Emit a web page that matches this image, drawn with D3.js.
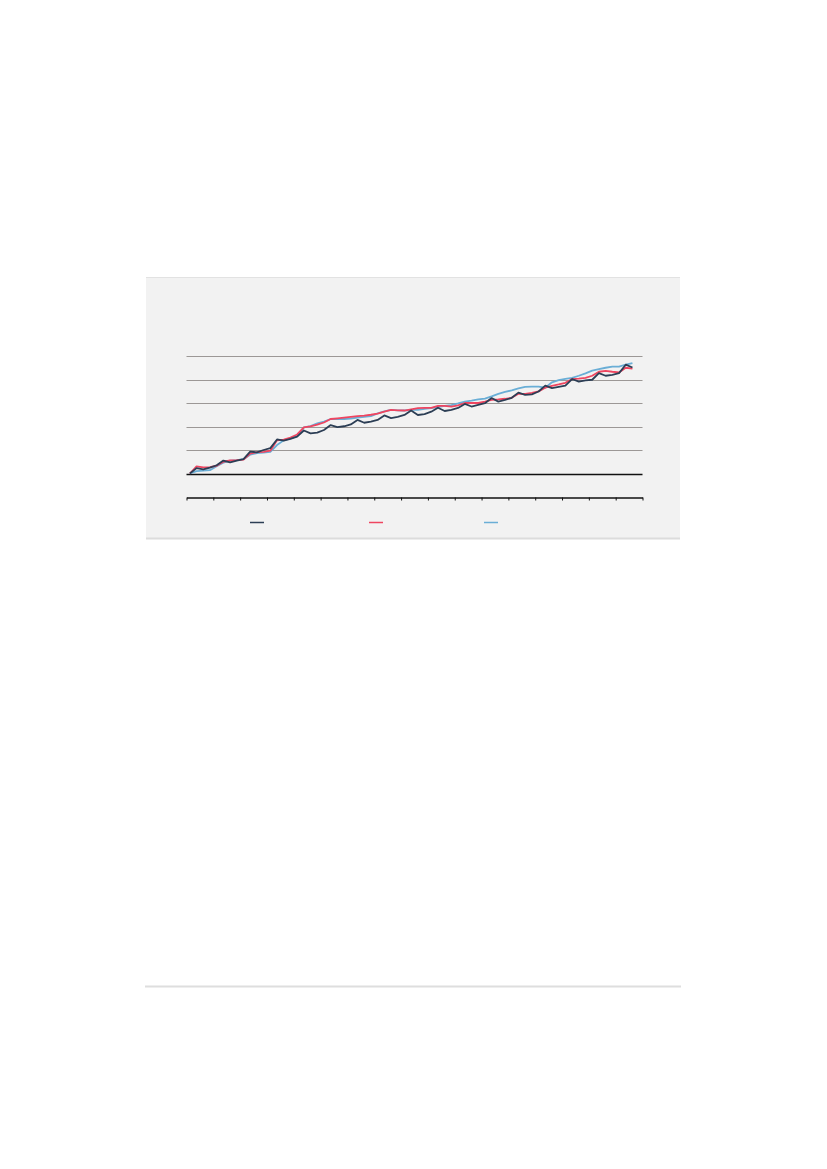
<!DOCTYPE html>
<html>
<head>
<meta charset="utf-8">
<script src="https://cdn.jsdelivr.net/npm/d3@7"></script>
<style>
  body { margin: 0; background: #ffffff; }
  svg { display: block; }
</style>
</head>
<body>
<script>
// quarterly series, 67 quarters over 17 year bands
var seriesDark = [0, 2.3, 1.8, 2.5, 3.5, 5.5, 4.7, 5.5, 6.1, 9.3, 9.0, 10.0, 10.8, 14.5, 14.0, 14.7,
  15.7, 18.3, 17.1, 17.4, 18.5, 20.6, 19.7, 20.1, 20.9, 22.8, 21.6, 22.1, 22.8, 24.7, 23.6, 24.1,
  24.9, 26.8, 24.9, 25.3, 26.3, 28.0, 26.6, 27.1, 27.9, 29.6, 28.5, 29.2, 29.9, 32.1, 30.6, 31.3,
  32.2, 34.4, 33.5, 33.7, 34.9, 37.4, 36.3, 36.9, 37.4, 40.2, 39.1, 39.6, 39.9, 42.7, 41.6, 42.0,
  42.7, 46.3, 45.1];
var seriesRed = [0, 3.0, 2.6, 2.7, 3.3, 5.0, 5.6, 5.7, 5.9, 8.5, 9.1, 9.2, 9.7, 14.1, 14.4, 15.3,
  16.6, 19.6, 20.1, 20.8, 21.7, 23.2, 23.5, 23.8, 24.1, 24.4, 24.6, 25.0, 25.5, 26.3, 27.1, 26.9,
  26.8, 27.3, 27.8, 27.9, 27.9, 28.8, 28.8, 28.5, 29.0, 30.0, 30.0, 30.0, 30.6, 31.3, 31.5, 31.8,
  32.2, 33.9, 33.9, 34.3, 34.9, 36.5, 37.3, 37.9, 38.6, 40.2, 40.4, 40.7, 41.6, 43.3, 43.7, 43.3,
  43.0, 45.0, 44.6];
var seriesBlue = [0, 1.0, 1.2, 1.4, 3.1, 4.6, 5.5, 5.7, 6.1, 8.0, 8.7, 8.9, 9.2, 12.1, 14.1, 14.9,
  15.9, 19.6, 20.2, 21.3, 22.1, 23.2, 23.2, 23.2, 23.4, 23.8, 24.1, 24.4, 25.6, 26.4, 27.1, 26.9,
  26.8, 27.1, 27.1, 27.5, 27.8, 28.3, 28.8, 29.1, 29.8, 30.6, 31.0, 31.5, 31.9, 32.8, 33.9, 34.7,
  35.4, 36.2, 36.9, 37.0, 37.0, 36.5, 38.8, 39.7, 40.3, 40.7, 41.6, 42.6, 43.8, 44.4, 45.0, 45.5,
  45.5, 46.3, 47.0];
var yearBands = d3.range(0, 69, 4);   // band boundaries in quarters
var gridValues = [10, 20, 30, 40, 50];

var svg = d3.select("body").append("svg")
  .attr("width", 827)
  .attr("height", 1169);

// panel
svg.append("rect")
  .attr("x", 146).attr("y", 277)
  .attr("width", 534).attr("height", 261)
  .attr("fill", "#f2f2f2");
svg.append("line")  // top edge
  .attr("x1", 146).attr("x2", 680).attr("y1", 277.5).attr("y2", 277.5)
  .attr("stroke", "#e2e2e2").attr("stroke-width", 1);
svg.append("line")  // bottom edge
  .attr("x1", 146).attr("x2", 680).attr("y1", 538.5).attr("y2", 538.5)
  .attr("stroke", "#dcdcdc").attr("stroke-width", 2);

// footer rule
svg.append("line")
  .attr("x1", 145).attr("x2", 681).attr("y1", 986.5).attr("y2", 986.5)
  .attr("stroke", "#dedede").attr("stroke-width", 2);

var x = d3.scaleLinear().domain([0, 68]).range([186.5, 642.5]);
var y = d3.scaleLinear().domain([-10, 50]).range([497, 356]);

// gridlines
svg.append("g").selectAll("line")
  .data(gridValues)
  .enter().append("line")
  .attr("x1", x(0)).attr("x2", x(68))
  .attr("y1", function(d) { return Math.round(y(d)) + 0.5; })
  .attr("y2", function(d) { return Math.round(y(d)) + 0.5; })
  .attr("stroke", "#9c9896")
  .attr("stroke-width", 1.2);

// zero line
svg.append("line")
  .attr("x1", x(0)).attr("x2", x(68))
  .attr("y1", Math.round(y(0)) + 0.5).attr("y2", Math.round(y(0)) + 0.5)
  .attr("stroke", "#111").attr("stroke-width", 1.5);

// bottom axis, ticks only
var xAxis = d3.axisBottom(x)
  .tickValues(yearBands)
  .tickSize(3)
  .tickSizeOuter(0)
  .tickFormat("");
var axisG = svg.append("g")
  .attr("transform", "translate(0," + (Math.round(y(-10)) + 0.5) + ")")
  .call(xAxis);
axisG.select(".domain").attr("stroke", "#111").attr("stroke-width", 1.5);
axisG.selectAll(".tick line").attr("stroke", "#111").attr("stroke-width", 1);

var line = d3.line()
  .x(function(d, i) { return x(i + 0.5); })
  .y(function(d) { return y(d); });

var series = [
  { values: seriesBlue, color: "#6aaed6" },
  { values: seriesRed, color: "#ef4560" },
  { values: seriesDark, color: "#2c3e55" }
];

svg.append("g").selectAll("path")
  .data(series)
  .enter().append("path")
  .attr("d", function(d) { return line(d.values); })
  .attr("fill", "none")
  .attr("stroke", function(d) { return d.color; })
  .attr("stroke-width", 1.8)
  .attr("stroke-linejoin", "round");

// legend swatches
var legendX = [250, 369, 484];
var legendColors = ["#2c3e55", "#ef4560", "#6aaed6"];
svg.append("g").selectAll("line")
  .data(legendX)
  .enter().append("line")
  .attr("x1", function(d) { return d; })
  .attr("x2", function(d) { return d + 14; })
  .attr("y1", 522.5).attr("y2", 522.5)
  .attr("stroke", function(d, i) { return legendColors[i]; })
  .attr("stroke-width", 1.5);
</script>
</body>
</html>
